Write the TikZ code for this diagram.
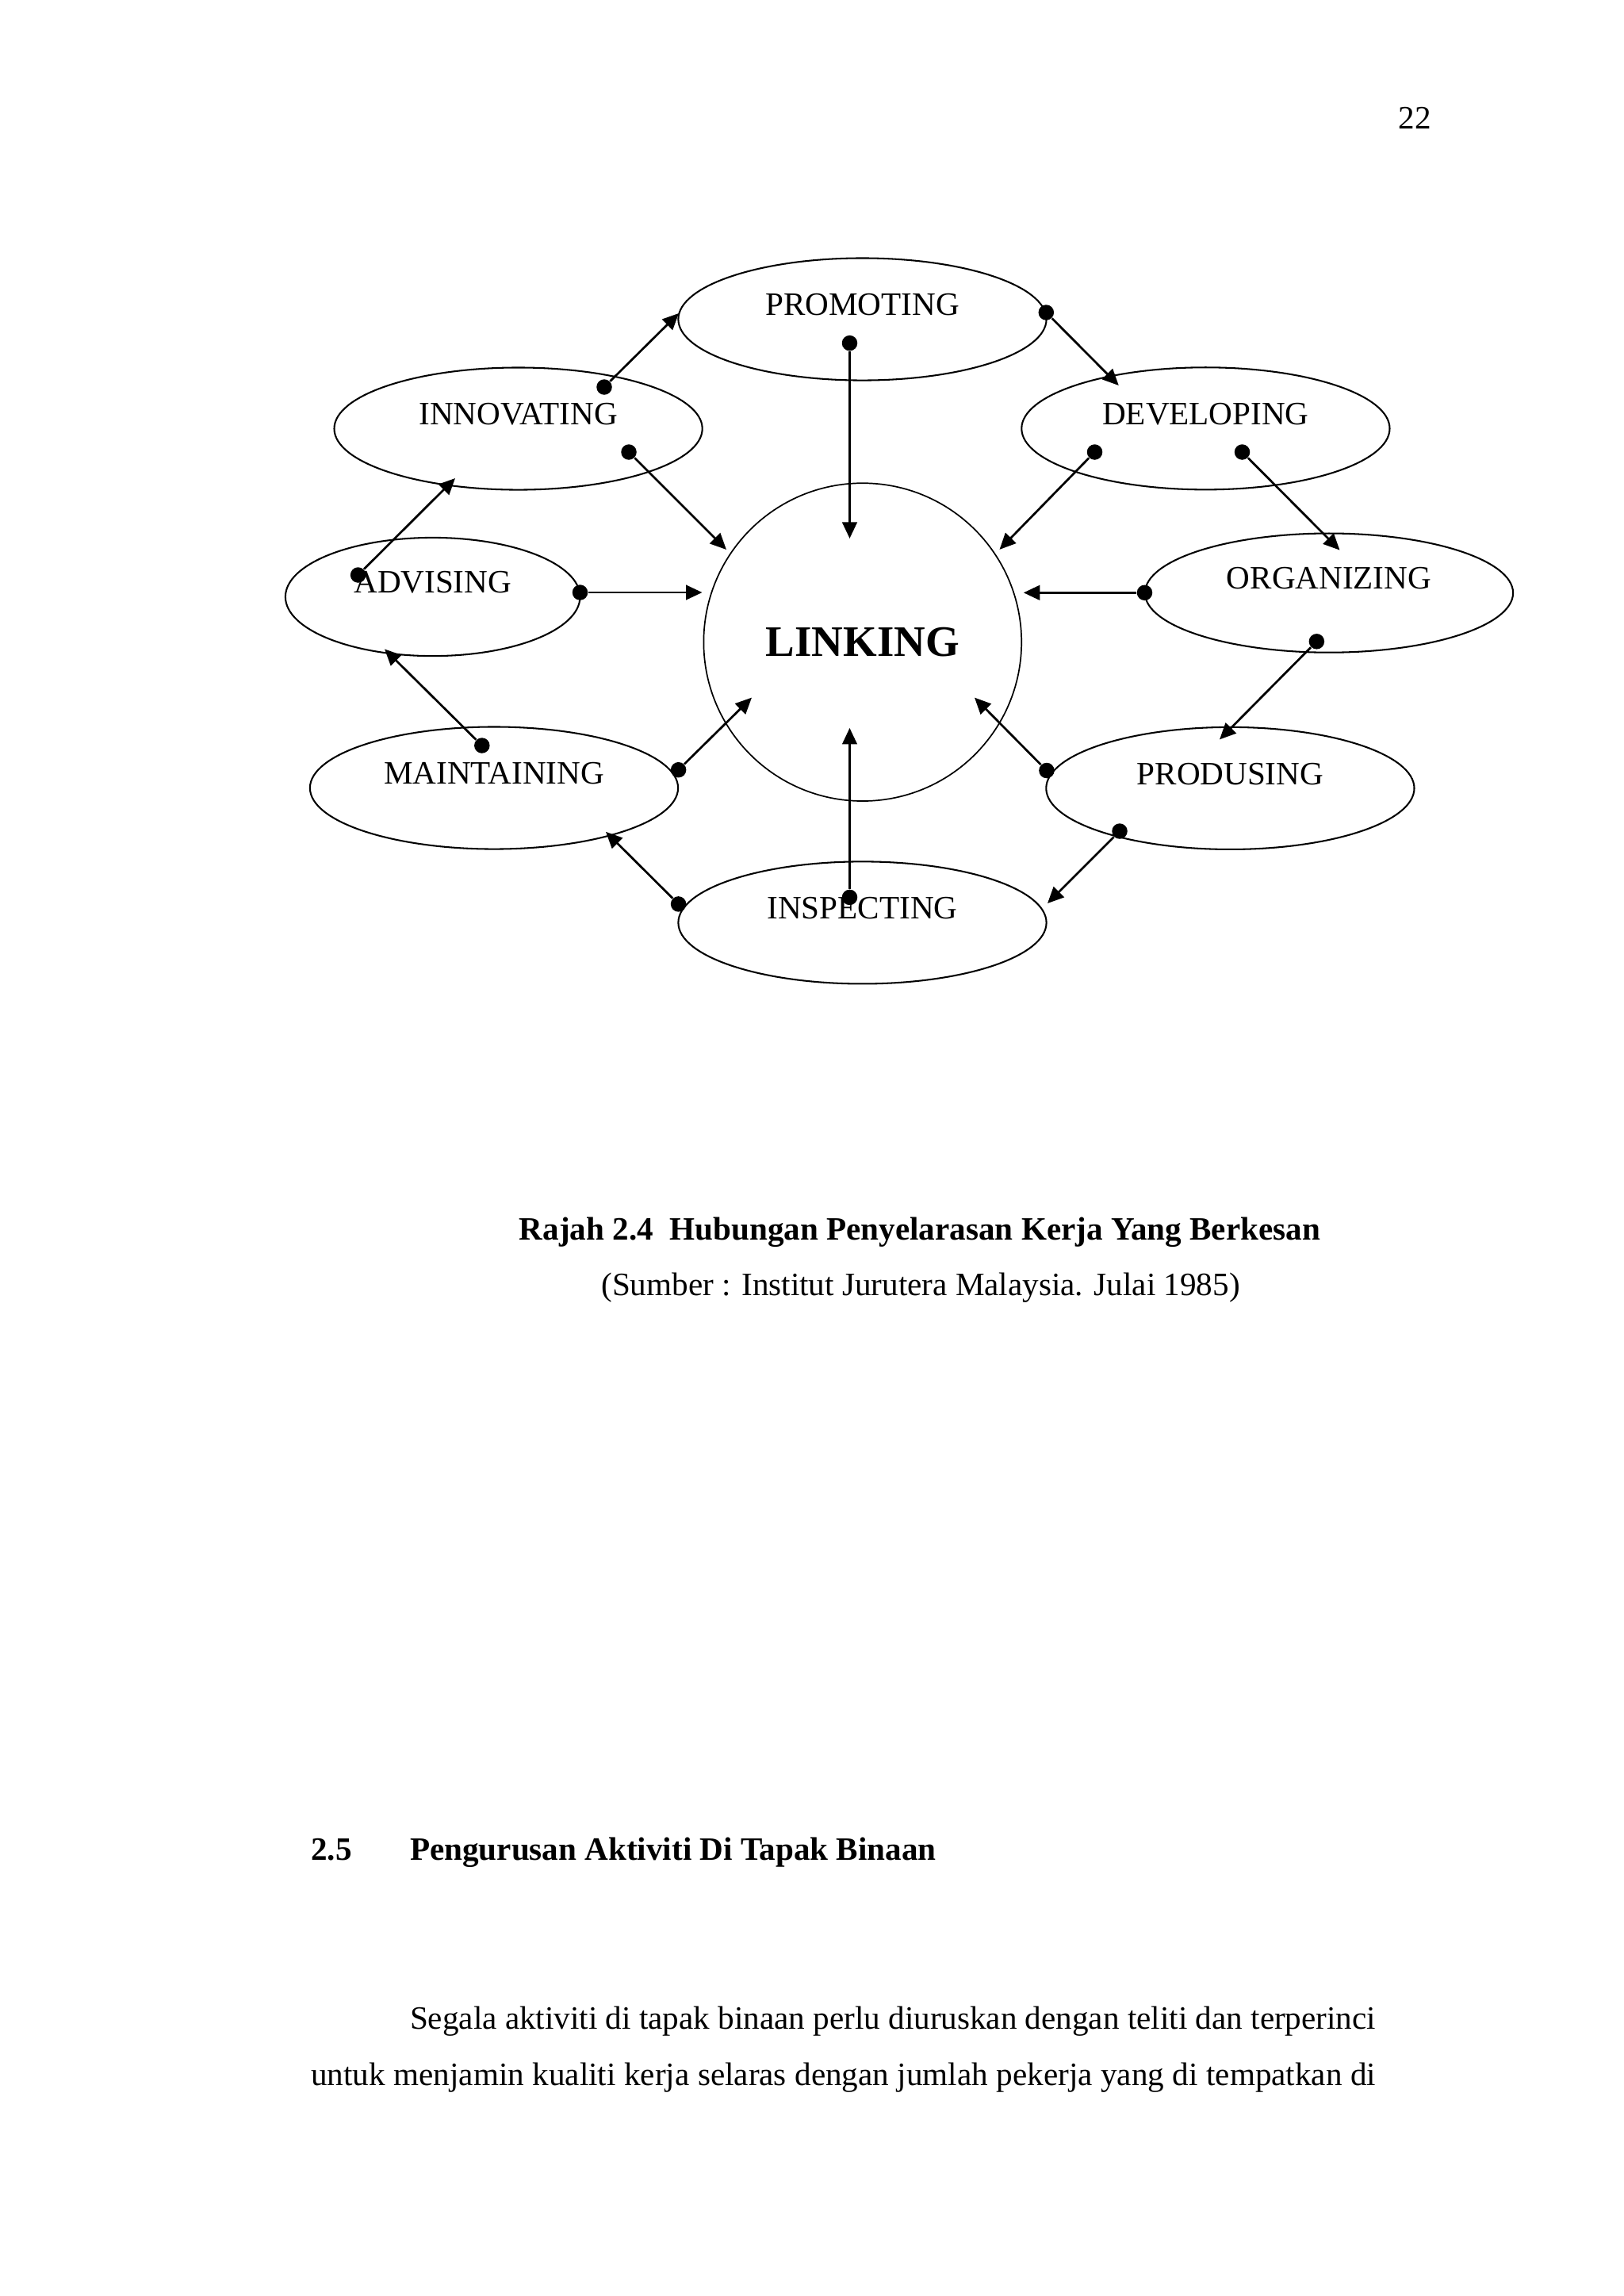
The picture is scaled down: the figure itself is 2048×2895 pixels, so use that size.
\documentclass[tikz,border=0pt]{standalone}
\usepackage{fontspec}
\setmainfont{Liberation Serif}
\usetikzlibrary{shapes.geometric,arrows.meta}
\tikzset{
  activity/.style={ellipse,draw,line width=0.6pt,minimum width=47.6mm,minimum height=15.8mm,
    inner sep=0pt,text height=3mm,text depth=4mm,font=\fontsize{12}{14}\selectfont},
  hub/.style={circle,draw,line width=0.5pt,minimum size=41.1mm,inner sep=0pt,
    font=\fontsize{16}{19}\selectfont\bfseries},
  pin/.style={circle,fill,inner sep=0pt,minimum size=2mm},
  link/.style={line width=0.8pt,-{Triangle[length=2.1mm,width=1.9mm]}},
  txt/.style={inner sep=0pt,font=\fontsize{12}{14}\selectfont}
}
\begin{document}
\begin{tikzpicture}[x=0.10254mm,y=-0.10254mm]
  \fill[white] (0,0) rectangle (2048,2895);
  \node[txt,anchor=base] (pagenum) at (1784,162) {22};
  \node[activity] (promoting) at (1087.5,402.5) {PROMOTING};
  \node[activity] (innovating) at (653.6,540.5) {INNOVATING};
  \node[activity] (developing) at (1520.4,540.3) {DEVELOPING};
  \node[activity,minimum width=38.1mm,minimum height=15.3mm] (advising) at (545.7,752.5) {ADVISING};
  \node[activity,minimum height=15.4mm] (organizing) at (1676,747.6) {ORGANIZING};
  \node[activity] (maintaining) at (623,993.5) {MAINTAINING};
  \node[activity] (produsing) at (1551.4,993.9) {PRODUSING};
  \node[activity] (inspecting) at (1087.5,1163.4) {INSPECTING};
  \node[hub] (linking) at (1087.8,809.6) {LINKING};
  \node[pin] (inn-a) at (762,488) {};
  \node[pin] (inn-b) at (793,570) {};
  \node[pin] (pro-a) at (1319.3,394) {};
  \node[pin] (pro-b) at (1071.5,432.6) {};
  \node[pin] (dev-a) at (1380.5,570) {};
  \node[pin] (dev-b) at (1566.5,570) {};
  \node[pin] (adv-a) at (451.6,725) {};
  \node[pin] (adv-b) at (731.5,747) {};
  \node[pin] (org-a) at (1443.5,747.3) {};
  \node[pin] (org-b) at (1660.4,808.8) {};
  \node[pin] (mai-a) at (607.8,940) {};
  \node[pin] (mai-b) at (855.6,970.7) {};
  \node[pin] (prd-a) at (1319.9,971.5) {};
  \node[pin] (prd-b) at (1412,1048) {};
  \node[pin] (ins-a) at (855.6,1139.9) {};
  \node[pin] (ins-b) at (1071.5,1131.4) {};
  \coordinate (inn-a-tip) at (856,395);
  \coordinate (inn-b-tip) at (916,693);
  \coordinate (pro-a-tip) at (1410.8,486);
  \coordinate (pro-b-tip) at (1071.5,678.9);
  \coordinate (dev-a-tip) at (1260.5,692.9);
  \coordinate (dev-b-tip) at (1689.5,693.6);
  \coordinate (adv-a-tip) at (574,603);
  \coordinate (adv-b-tip) at (885.5,747);
  \coordinate (org-a-tip) at (1290.8,747.3);
  \coordinate (org-b-tip) at (1538,932.4);
  \coordinate (mai-a-tip) at (485,818.4);
  \coordinate (mai-b-tip) at (948,879.6);
  \coordinate (prd-a-tip) at (1229,879.6);
  \coordinate (prd-b-tip) at (1321,1139);
  \coordinate (ins-a-tip) at (764,1048.8);
  \coordinate (ins-b-tip) at (1071.5,917.9);
  \begin{scope}[link]
    \draw (inn-a) -- (inn-a-tip);
    \draw (inn-b) -- (inn-b-tip);
    \draw (pro-a) -- (pro-a-tip);
    \draw (pro-b) -- (pro-b-tip);
    \draw (dev-a) -- (dev-a-tip);
    \draw (dev-b) -- (dev-b-tip);
    \draw (adv-a) -- (adv-a-tip);
    \draw (adv-b) -- (adv-b-tip);
    \draw (org-a) -- (org-a-tip);
    \draw (org-b) -- (org-b-tip);
    \draw (mai-a) -- (mai-a-tip);
    \draw (mai-b) -- (mai-b-tip);
    \draw (prd-a) -- (prd-a-tip);
    \draw (prd-b) -- (prd-b-tip);
    \draw (ins-a) -- (ins-a-tip);
    \draw (ins-b) -- (ins-b-tip);
  \end{scope}
  \node[txt,anchor=base] (caption) at (1160,1563)
    {\bfseries Rajah 2.4\ \ Hubungan Penyelarasan Kerja Yang Berkesan};
  \node[txt,anchor=base] (source) at (1161,1633)
    {(Sumber : Institut Jurutera Malaysia. Julai 1985)};
  \node[txt,anchor=base west] (secnum) at (391.6,2345) {\bfseries 2.5};
  \node[txt,anchor=base west] (sectitle) at (516.4,2345)
    {\bfseries Pengurusan Aktiviti Di Tapak Binaan};
  \node[txt,anchor=base west] (line1) at (516.4,2558)
    {\hbox to 124.88mm{Segala aktiviti di tapak binaan perlu diuruskan dengan teliti dan terperinci}};
  \node[txt,anchor=base west] (line2) at (391.6,2629)
    {\hbox to 137.68mm{untuk menjamin kualiti kerja selaras dengan jumlah pekerja yang di tempatkan di}};
\end{tikzpicture}
\end{document}
